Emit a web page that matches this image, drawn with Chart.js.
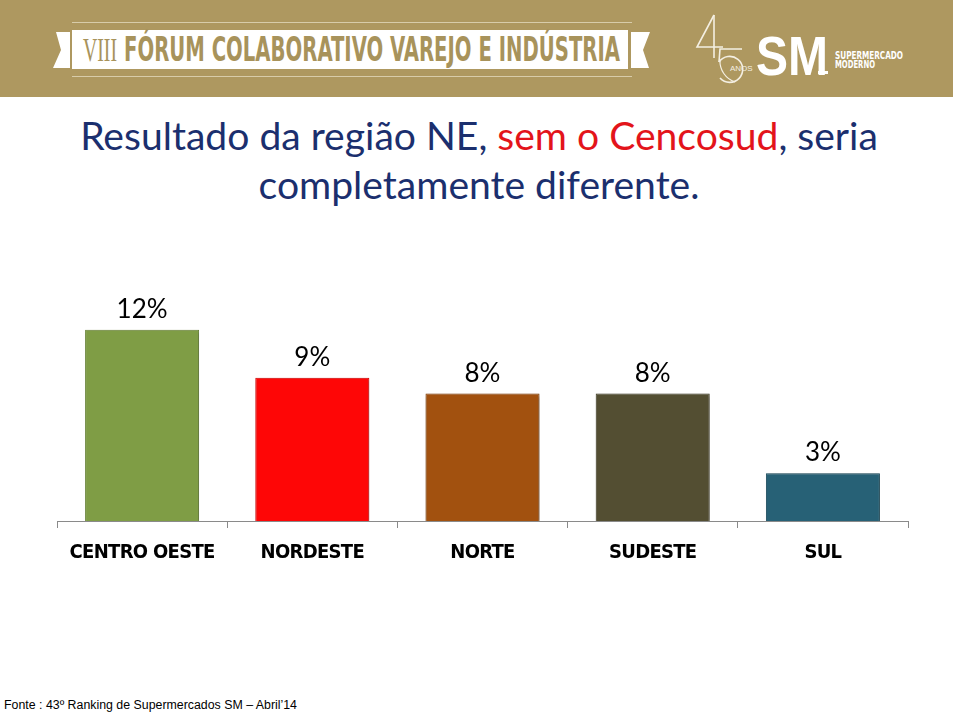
<!DOCTYPE html>
<html>
<head>
<meta charset="utf-8">
<script src="https://cdn.jsdelivr.net/npm/chart.js@4.4.1/dist/chart.umd.min.js"></script>
<style>
  html, body { margin: 0; padding: 0; background: #ffffff; }
  #page { position: relative; width: 959px; height: 713px; overflow: hidden; background: #fff; }
  #deco { position: absolute; left: 0; top: 0; }
  #chart { position: absolute; left: 0; top: 0; }
</style>
</head>
<body>
<div id="page">
<svg id="deco" width="959" height="713" xmlns="http://www.w3.org/2000/svg">
  <!-- banner -->
  <rect x="0" y="0" width="953" height="97" fill="#AE9860"/>
  <line x1="72" y1="22.5" x2="632" y2="22.5" stroke="#D8CCAA" stroke-width="1"/>
  <line x1="72" y1="76.5" x2="632" y2="76.5" stroke="#D8CCAA" stroke-width="1"/>
  <polygon points="56,32 70,32 70,68 53,68 61,50" fill="#ffffff"/>
  <rect x="72" y="30" width="556" height="39" fill="#ffffff"/>
  <polygon points="631,32 650,32 643,50 649,68 631,68" fill="#ffffff"/>
  <text x="83" y="61" font-family="'Liberation Serif', serif" font-size="33" fill="#A8935B" textLength="34" lengthAdjust="spacingAndGlyphs">VIII</text>
  <text x="124" y="61" font-family="'Liberation Sans Narrow','DejaVu Sans Condensed',sans-serif" font-weight="bold" font-size="33" fill="#A8935B" textLength="496" lengthAdjust="spacingAndGlyphs">FÓRUM COLABORATIVO VAREJO E INDÚSTRIA</text>
  <!-- logo -->
  <polyline points="714,15 697,47 723,47" fill="none" stroke="#F4EFE2" stroke-width="1.6"/>
  <line x1="714" y1="15" x2="714" y2="58" stroke="#F4EFE2" stroke-width="1.6"/>
  <polyline points="742,49 720,49 719,62" fill="none" stroke="#F4EFE2" stroke-width="1.6"/>
  <path d="M719,62 A13,13 0 1 1 720,78" fill="none" stroke="#F4EFE2" stroke-width="1.6"/>
  <path d="M720,60 A22,22 0 0 0 735,82" fill="none" stroke="#F4EFE2" stroke-width="1.2"/>
  <text x="730" y="71" font-family="'Liberation Sans',sans-serif" font-size="8" fill="#F4EFE2">ANOS</text>
  <text x="756" y="75" font-family="'Liberation Sans',sans-serif" font-weight="bold" font-size="56" fill="#ffffff" textLength="72" lengthAdjust="spacingAndGlyphs">SM</text>
  <rect x="818" y="71" width="10" height="3" fill="#ffffff"/>
  <text x="835" y="59" font-family="'Liberation Sans Narrow','DejaVu Sans Condensed',sans-serif" font-weight="bold" font-size="10" fill="#ffffff" textLength="68" lengthAdjust="spacingAndGlyphs">SUPERMERCADO</text>
  <text x="835" y="68" font-family="'Liberation Sans Narrow','DejaVu Sans Condensed',sans-serif" font-weight="bold" font-size="10" fill="#ffffff" textLength="40" lengthAdjust="spacingAndGlyphs">MODERNO</text>
  <!-- title -->
  <text id="t1" x="479" y="150" text-anchor="middle" font-family="Lato, 'Open Sans', sans-serif" font-size="40" fill="#1B2F6E">Resultado da região NE, <tspan fill="#E3141B">sem o Cencosud</tspan>, seria</text>
  <text id="t2" x="479" y="199" text-anchor="middle" font-family="Lato, 'Open Sans', sans-serif" font-size="40" fill="#1B2F6E">completamente diferente.</text>
  <!-- footer -->
  <text x="4" y="709" font-family="'Liberation Sans', Arial, sans-serif" font-size="12.5" fill="#000000" textLength="293" lengthAdjust="spacingAndGlyphs">Fonte : 43º Ranking de Supermercados SM – Abril’14</text>
</svg>
<canvas id="chart" width="959" height="713"></canvas>
</div>
<script>
// ---- data ----
const categories = ["CENTRO OESTE", "NORDESTE", "NORTE", "SUDESTE", "SUL"];
const values = [12, 9, 8, 8, 3];
const valueLabels = ["12%", "9%", "8%", "8%", "3%"];
const barColors = ["#7F9D45", "#FE0606", "#A2510F", "#534E32", "#276176"];
const barEdges = ["#6A8638", "#D40000", "#853F08", "#3F3B24", "#1B4D5F"];

// fit title size to reference width
(function () {
  const t1 = document.getElementById('t1');
  const t2 = document.getElementById('t2');
  const w = t1.getComputedTextLength();
  if (w > 0) {
    const fs = 40 * 798 / w;
    t1.setAttribute('font-size', fs.toFixed(2));
    t2.setAttribute('font-size', fs.toFixed(2));
  }
})();

const condensePlugin = {
  id: 'condenseTicks',
  beforeDraw(chart) { chart.ctx.letterSpacing = '-0.7px'; },
  beforeDatasetsDraw(chart) { chart.ctx.letterSpacing = '0px'; }
};

const shadowPlugin = {
  id: 'barShadow',
  beforeDatasetDraw(chart) {
    const ctx = chart.ctx;
    ctx.save();
    ctx.shadowColor = 'rgba(0,0,0,0.35)';
    ctx.shadowBlur = 3;
    ctx.shadowOffsetX = 1;
    ctx.shadowOffsetY = 1;
  },
  afterDatasetDraw(chart) {
    chart.ctx.restore();
  }
};

const valueLabelPlugin = {
  id: 'valueLabels',
  afterDatasetsDraw(chart) {
    const ctx = chart.ctx;
    const meta = chart.getDatasetMeta(0);
    ctx.save();
    ctx.font = '26px Lato, "Open Sans", sans-serif';
    ctx.fillStyle = '#000000';
    ctx.textAlign = 'center';
    ctx.textBaseline = 'alphabetic';
    meta.data.forEach((bar, i) => {
      ctx.fillText(valueLabels[i], bar.x, bar.y - 12);
    });
    ctx.restore();
  }
};

new Chart(document.getElementById('chart'), {
  type: 'bar',
  data: {
    labels: categories,
    datasets: [{
      data: values,
      backgroundColor: barColors,
      borderColor: barEdges,
      borderWidth: 1,
      borderSkipped: 'bottom',
      categoryPercentage: 1,
      barPercentage: 0.67
    }]
  },
  options: {
    responsive: false,
    devicePixelRatio: 1,
    animation: false,
    layout: { padding: { left: 57, right: 51, top: 298, bottom: 0 } },
    plugins: { legend: { display: false }, tooltip: { enabled: false } },
    scales: {
      y: { display: false, min: 0, max: 14 },
      x: {
        afterFit(scale) { scale.height = 192; },
        border: { display: true, color: '#8A8A8A', width: 1 },
        grid: { display: true, drawOnChartArea: false, drawTicks: true, tickLength: 7, color: '#8A8A8A', offset: true },
        ticks: {
          color: '#000000',
          padding: 13,
          maxRotation: 0,
          autoSkip: false,
          font: { family: "'Liberation Sans Narrow', 'DejaVu Sans Condensed', sans-serif", weight: 'bold', size: 20 }
        }
      }
    }
  },
  plugins: [condensePlugin, shadowPlugin, valueLabelPlugin]
});
</script>
</body>
</html>
